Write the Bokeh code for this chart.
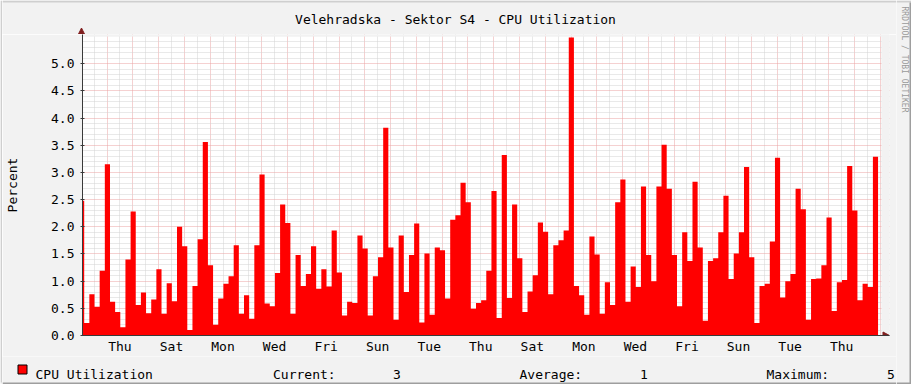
import math
from bokeh.plotting import figure
from bokeh.layouts import column, row
from bokeh.models import (Range1d, FixedTicker, PrintfTickFormatter, ColumnDataSource)
from bokeh.core.properties import value
from bokeh.embed import file_html
from bokeh.resources import INLINE

# ---------------- data ----------------
cpu_percent = [
    2.48, 0.23, 0.76, 0.53, 1.19, 3.15, 0.62, 0.43, 0.15, 1.40,
    2.28, 0.56, 0.79, 0.41, 0.66, 1.22, 0.40, 0.96, 0.63, 2.00,
    1.64, 0.10, 0.91, 1.77, 3.56, 1.29, 0.20, 0.68, 0.95, 1.09,
    1.66, 0.40, 0.74, 0.31, 1.66, 2.96, 0.59, 0.54, 1.15, 2.41,
    2.07, 0.40, 1.48, 0.91, 1.13, 1.64, 0.86, 1.22, 0.90, 1.93,
    1.16, 0.37, 0.62, 0.60, 1.84, 1.60, 0.37, 1.09, 1.44, 3.82,
    1.62, 0.29, 1.84, 0.80, 1.48, 2.06, 0.24, 1.51, 0.38, 1.62,
    1.57, 0.68, 2.13, 2.21, 2.81, 2.45, 0.49, 0.60, 0.65, 1.19,
    2.66, 0.32, 3.32, 0.69, 2.41, 1.42, 0.43, 0.81, 1.11, 2.08,
    1.91, 0.76, 1.66, 1.75, 1.93, 5.48, 0.91, 0.74, 0.38, 1.82,
    1.49, 0.40, 0.98, 0.56, 2.45, 2.87, 0.62, 1.27, 0.89, 2.74,
    1.48, 1.00, 2.74, 3.51, 2.70, 1.48, 0.54, 1.90, 1.37, 2.83,
    1.62, 0.27, 1.37, 1.42, 1.90, 2.57, 1.04, 1.51, 1.90, 3.10,
    1.44, 0.23, 0.91, 0.95, 1.73, 3.27, 0.70, 1.00, 1.13, 2.70,
    2.32, 0.29, 1.04, 1.05, 1.29, 2.17, 0.45, 0.98, 1.02, 3.12,
    2.30, 0.65, 0.95, 0.89, 3.29,
]
bar_days = 0.2            # each consolidated sample covers 4.8 hours
first_bar_start = -1.587  # days relative to the first labelled noon
day_labels = ["Thu", "Sat", "Mon", "Wed", "Fri", "Sun", "Tue", "Thu",
              "Sat", "Mon", "Wed", "Fri", "Sun", "Tue", "Thu"]
y_ticks = [0.0, 0.5, 1.0, 1.5, 2.0, 2.5, 3.0, 3.5, 4.0, 4.5, 5.0]
title_text = "Velehradska - Sektor S4 - CPU Utilization"
series_name = "CPU Utilization"
y_label = "Percent"
watermark = "RRDTOOL / TOBI OETIKER"

current_val = "%.0f" % cpu_percent[-1]
average_val = "%.0f" % (sum(cpu_percent) / len(cpu_percent))
maximum_val = "%.0f" % max(cpu_percent)

# ---------------- layout constants (page pixels) ----------------
FONT = "DejaVu Sans Mono"
BG = "#F2F2F2"
SHADE_A, SHADE_B = "#CFCFCF", "#9E9E9E"
ARROW_COL = "#801F1F"
AXIS_COL = "#3A3A3A"
TOTAL_W, TOTAL_H = 911, 384
W_LEFT = 2
W_RIGHT = 15
W_MID = TOTAL_W - W_LEFT - W_RIGHT          # 894
X_MID0 = W_LEFT                              # page x where middle block starts
H_TOP, H_MAIN = 34, 322
H_FOOT = TOTAL_H - H_TOP - H_MAIN            # 28

X_START, X_PLOT_END = -1.453, 29.547
Y_START, Y_PLOT_END = 0.0, 5.5
PLOT_L, PLOT_R, PLOT_T, PLOT_B = 81, 881, 36, 336      # white canvas (page px)
FRAME_R, FRAME_T = 889, H_TOP                           # frame includes arrow zone
PX_DAY = (PLOT_R - PLOT_L) / (X_PLOT_END - X_START)
PX_UNIT = (PLOT_B - PLOT_T) / (Y_PLOT_END - Y_START)
X_END = X_START + (FRAME_R - PLOT_L) / PX_DAY
Y_END = (PLOT_B - FRAME_T) / PX_UNIT

def dx(px):
    return X_START + (px - PLOT_L) / PX_DAY

def dy(py):
    return (PLOT_B - py) / PX_UNIT

def blank(width, height, xr, yr):
    f = figure(width=width, height=height, output_backend="svg",
               toolbar_location=None, x_range=Range1d(*xr), y_range=Range1d(*yr),
               x_axis_type=None, y_axis_type=None, min_border=0, title=None,
               frame_align=False)
    f.background_fill_color = BG
    f.border_fill_color = BG
    f.outline_line_color = None
    f.grid.visible = False
    return f

# ---------------- left / right edge strips ----------------
left_strip = blank(W_LEFT, TOTAL_H, (0, W_LEFT), (TOTAL_H, 0))
left_strip.quad(left=[0], right=[W_LEFT], top=[0], bottom=[TOTAL_H - 2],
                fill_color=SHADE_A, line_color=None)

right_strip = blank(W_RIGHT, TOTAL_H, (TOTAL_W - W_RIGHT, TOTAL_W), (TOTAL_H, 0))
right_strip.quad(left=[TOTAL_W - W_RIGHT], right=[TOTAL_W], top=[0], bottom=[2],
                 fill_color=SHADE_A, line_color=None)
right_strip.quad(left=[TOTAL_W - 2], right=[TOTAL_W], top=[2], bottom=[TOTAL_H],
                 fill_color=SHADE_B, line_color=None)
right_strip.quad(left=[TOTAL_W - W_RIGHT], right=[TOTAL_W], top=[TOTAL_H - 2],
                 bottom=[TOTAL_H], fill_color=SHADE_B, line_color=None)
right_strip.text(x=[903.5], y=[6], text=[watermark], text_font=value(FONT),
                 text_font_size=value("8px"), text_align="left",
                 text_baseline="middle", angle=-math.pi / 2, text_color="#9A9A9A")

# ---------------- header (title + top arrow head) ----------------
header = blank(W_MID, H_TOP, (X_MID0, X_MID0 + W_MID), (H_TOP, 0))
header.quad(left=[X_MID0], right=[X_MID0 + W_MID], top=[0], bottom=[2],
            fill_color=SHADE_A, line_color=None)
header.text(x=[455], y=[19.3], text=[title_text], text_font=value(FONT),
            text_font_size=value("13px"), text_align="center",
            text_baseline="alphabetic", text_color="black")
header.patch(x=[77.5, 84.5, 81.0], y=[34.5, 34.5, 27.5],
             fill_color=ARROW_COL, line_color=ARROW_COL)

# ---------------- main plot ----------------
p = figure(width=W_MID, height=H_MAIN, output_backend="svg", toolbar_location=None,
           x_range=Range1d(X_START, X_END), y_range=Range1d(Y_START, Y_END),
           min_border_left=PLOT_L - X_MID0,
           min_border_right=X_MID0 + W_MID - FRAME_R,
           min_border_top=0,
           min_border_bottom=H_TOP + H_MAIN - PLOT_B, title=None,
           frame_align=False)
p.background_fill_color = BG
p.border_fill_color = BG
p.outline_line_color = None

# white canvas of the graph
p.quad(left=[X_START], right=[X_PLOT_END], bottom=[Y_START], top=[Y_PLOT_END],
       fill_color="white", line_color=None, level="image")
# hide grid lines beyond the canvas (arrow zone)
p.quad(left=[X_PLOT_END, X_START], right=[X_END, X_END],
       bottom=[Y_START, Y_PLOT_END], top=[Y_END, Y_END],
       fill_color=BG, line_color=None)

edges = [first_bar_start + bar_days * i for i in range(len(cpu_percent) + 1)]
src = ColumnDataSource(dict(x=edges, y1=[0.0] * len(edges),
                            y2=cpu_percent + [cpu_percent[-1]]))
p.varea_step(x="x", y1="y1", y2="y2", step_mode="after", source=src,
             fill_color="#FF0000")

# right arrow head of the time axis
p.patch(x=[dx(882.5), dx(882.5), dx(889)], y=[dy(339.5), dy(332.5), dy(336)],
        fill_color=ARROW_COL, line_color=ARROW_COL)

midnights = [k - 0.5 for k in range(0, 31) if X_START < k - 0.5 <= X_PLOT_END]
noons = [k for k in range(-1, 30) if X_START < k < X_PLOT_END]
p.xgrid.ticker = FixedTicker(ticks=midnights, minor_ticks=noons)
y_minor = [round(0.1 * i, 1) for i in range(1, 55) if i % 5 != 0]
p.ygrid.ticker = FixedTicker(ticks=[t for t in y_ticks if t > 0], minor_ticks=y_minor)
for g in (p.xgrid[0], p.ygrid[0]):
    g.grid_line_color = "#EBA3A3"
    g.grid_line_dash = "1 1"
    g.minor_grid_line_color = "#D2D2D2"
    g.minor_grid_line_dash = "1 1"

label_pos = [2 * i for i in range(len(day_labels))]
p.xaxis.ticker = FixedTicker(ticks=label_pos)
p.xaxis.major_label_overrides = {pos: name for pos, name in zip(label_pos, day_labels)}
p.xaxis.major_tick_out = 0
p.xaxis.major_tick_in = 0
p.xaxis.minor_tick_line_color = None
p.xaxis.major_label_standoff = 3

p.yaxis.ticker = FixedTicker(ticks=y_ticks)
p.yaxis.formatter = PrintfTickFormatter(format="%.1f")
p.yaxis.major_tick_out = 2
p.yaxis.major_tick_in = 2
p.yaxis.minor_tick_line_color = None
p.yaxis.major_label_standoff = 6
p.yaxis.axis_label = y_label
p.yaxis.axis_label_text_font = FONT
p.yaxis.axis_label_text_font_size = "13px"
p.yaxis.axis_label_text_font_style = "normal"
p.yaxis.axis_label_text_color = "black"
p.yaxis.axis_label_standoff = 28

for ax in (p.xaxis[0], p.yaxis[0]):
    ax.axis_line_color = AXIS_COL
    ax.major_tick_line_color = AXIS_COL
    ax.major_label_text_font = FONT
    ax.major_label_text_font_size = "13px"
    ax.major_label_text_color = "black"

# ---------------- footer (legend) ----------------
foot_top = H_TOP + H_MAIN
footer = blank(W_MID, H_FOOT, (X_MID0, X_MID0 + W_MID), (TOTAL_H, foot_top))
footer.quad(left=[X_MID0], right=[X_MID0 + W_MID], top=[TOTAL_H - 2],
            bottom=[TOTAL_H], fill_color=SHADE_B, line_color=None)
footer.quad(left=[17.5], right=[26.5], top=[364.5], bottom=[373.5],
            fill_color="#FF0000", line_color="black", line_width=1)
LEG_Y = 373.5
leg_src = ColumnDataSource(dict(
    x=[35, 272.5, 519, 766],
    y=[LEG_Y] * 4,
    t=[series_name, "Current:", "Average:", "Maximum:"]))
footer.text(x="x", y="y", text="t", source=leg_src, text_font=value(FONT),
            text_font_size=value("13px"), text_align="left",
            text_baseline="alphabetic", text_color="black")
val_src = ColumnDataSource(dict(
    x=[396.5, 643.5, 890.5], y=[LEG_Y] * 3,
    t=[current_val, average_val, maximum_val]))
footer.text(x="x", y="y", text="t", source=val_src, text_font=value(FONT),
            text_font_size=value("13px"), text_align="center",
            text_baseline="alphabetic", text_color="black")

layout = row(left_strip, column(header, p, footer, spacing=0), right_strip, spacing=0)

open("out.html", "w").write(file_html(layout, INLINE))
